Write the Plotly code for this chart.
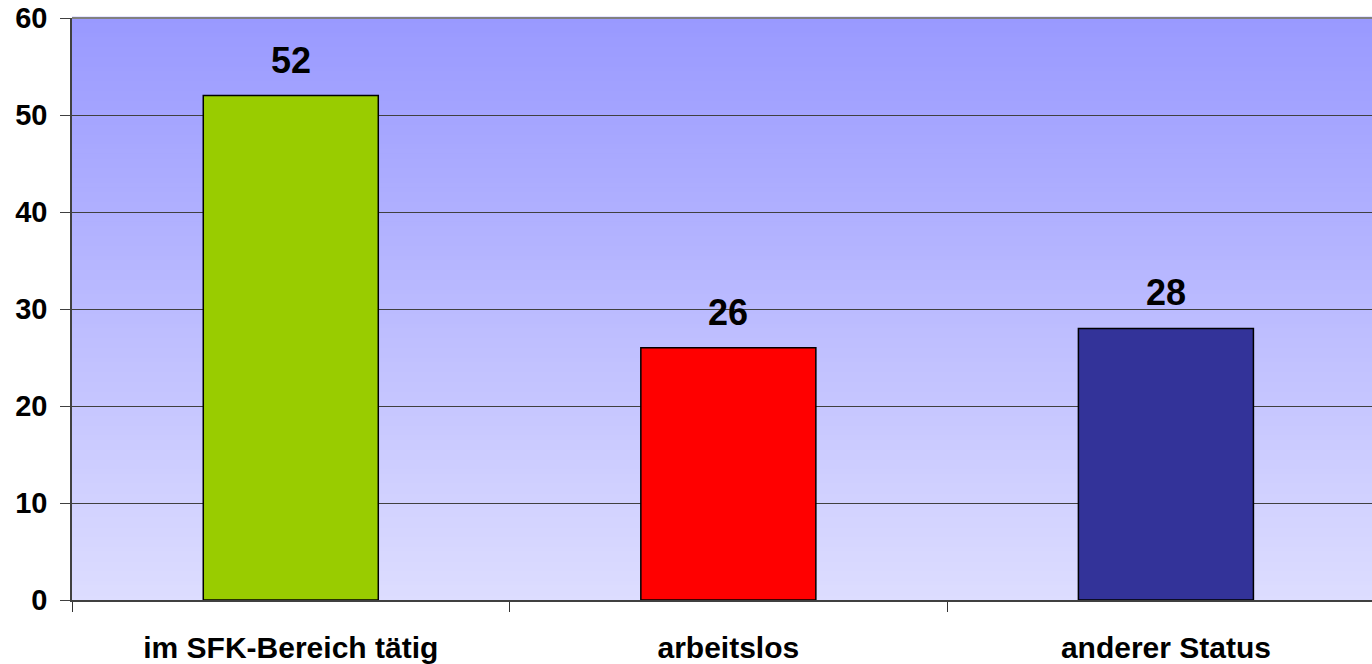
import plotly.graph_objects as go

categories = ["im SFK-Bereich tätig", "arbeitslos", "anderer Status"]
values = [52, 26, 28]
bar_colors = ["#99CC00", "#FF0000", "#333399"]
y_ticks = [0, 10, 20, 30, 40, 50, 60]

FONT = "Arial, Liberation Sans, sans-serif"

fig = go.Figure()
fig.add_trace(go.Bar(
    x=categories, y=values, width=0.4,
    marker=dict(color=bar_colors, line=dict(color="#000000", width=1.5)),
    hoverinfo="skip",
))

for c, v in zip(categories, values):
    fig.add_annotation(x=c, y=v, text=str(v), showarrow=False, yanchor="bottom",
                       yshift=13, font=dict(family=FONT, size=36, color="#000", weight="bold"))

# vertical gradient background
n = 120
top = (0x99, 0x99, 0xFF)
bot = (0xDD, 0xDD, 0xFF)
shapes = []
for i in range(n):
    t = (i + 0.5) / n
    col = tuple(round(bot[k] + (top[k] - bot[k]) * t) for k in range(3))
    shapes.append(dict(type="rect", xref="paper", yref="paper", x0=0, x1=1,
                       y0=i / n, y1=(i + 1) / n + 0.002, line=dict(width=0),
                       fillcolor="rgb(%d,%d,%d)" % col, layer="below"))
shapes.append(dict(type="line", xref="paper", yref="paper", x0=0, x1=1, y0=1, y1=1,
                   line=dict(color="#808080", width=2)))
fig.update_layout(shapes=shapes)

fig.update_layout(
    width=1372, height=664,
    margin=dict(l=72, r=0, t=18, b=64),
    paper_bgcolor="white", plot_bgcolor="#DDDDFF",
    showlegend=False,
    xaxis=dict(range=[-0.5, 2.471], tickson="boundaries", ticks="outside", ticklen=10,
               tickcolor="#333", tickwidth=1, showline=True, linecolor="#404040", linewidth=1.5,
               showgrid=False, ticklabelstandoff=20,
               tickfont=dict(family=FONT, size=30, color="#000", weight="bold")),
    yaxis=dict(range=[0, 60], tickvals=y_ticks, ticks="outside", ticklen=10,
               tickcolor="#404040", showline=True, linecolor="#404040", linewidth=1.5,
               showgrid=True, gridcolor="#404040", gridwidth=1, zeroline=False,
               ticklabelstandoff=7,
               tickfont=dict(family=FONT, size=29, color="#000", weight="bold")),
)

fig.write_html("out.html", config={"displayModeBar": False},
               post_script="document.body.style.margin='0';document.body.style.overflow='hidden';")
